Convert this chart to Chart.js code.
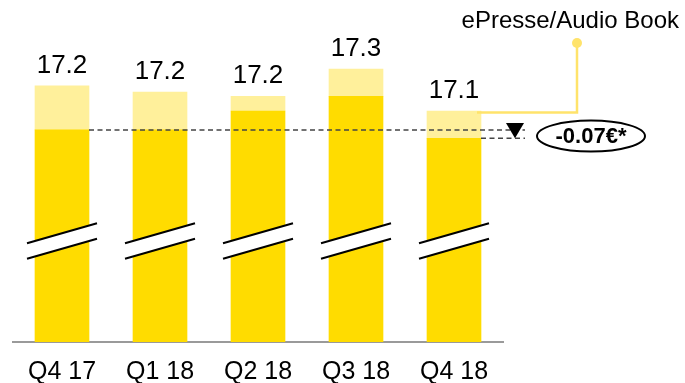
<!DOCTYPE html>
<html lang="fr">
<head>
<meta charset="utf-8">
<title>ARPU</title>
<style>
    html, body { margin: 0; padding: 0; background: #fff; }
    #wrap { width: 685px; height: 383px; }
</style>
</head>
<body>
<div id="wrap"><canvas id="myChart"></canvas></div>

<script src="https://cdn.jsdelivr.net/npm/chart.js"></script>
<script>
    const quarters = ["Q4 17", "Q1 18", "Q2 18", "Q3 18", "Q4 18"];
    // bar is split in print part + ePresse/Audio Book part, total is labelled on top
    const printValues = [17.01, 17.01, 17.10, 17.17, 16.97];
    const digitalValues = [0.21, 0.18, 0.07, 0.13, 0.13];
    const digitalLabel = "ePresse/Audio Book";
    const changeLabel = "-0.07€*";

    const FONT = '"Liberation Sans", Arial, Helvetica, sans-serif';
    const DARK = '#FFDC00';
    const LIGHT = '#FFF09B';
    const CALLOUT = '#FFE36B';
    const BREAK_AT = 16.48; // where the axis is cut

    function totalAt(i) {
        return printValues[i] + digitalValues[i];
    }

    var decorations = {
        id: 'decorations',
        afterDatasetsDraw: function (chart) {
            var ctx = chart.ctx;
            var y = chart.scales.y;
            var baseBars = chart.getDatasetMeta(0).data;
            var topBars = chart.getDatasetMeta(1).data;

            ctx.save();

            // axis break: white band with two slanted strokes
            var by = y.getPixelForValue(BREAK_AT);
            topBars.forEach(function (bar) {
                var cx = bar.x, dx = 35, rise = 10;
                var up = by - 8, lo = by + 7.5;
                ctx.fillStyle = '#fff';
                ctx.beginPath();
                ctx.moveTo(cx - dx, up + rise);
                ctx.lineTo(cx + dx, up - rise);
                ctx.lineTo(cx + dx, lo - rise);
                ctx.lineTo(cx - dx, lo + rise);
                ctx.closePath();
                ctx.fill();
                ctx.strokeStyle = '#000';
                ctx.lineWidth = 2;
                ctx.beginPath();
                ctx.moveTo(cx - dx, up + rise);
                ctx.lineTo(cx + dx, up - rise);
                ctx.moveTo(cx - dx, lo + rise);
                ctx.lineTo(cx + dx, lo - rise);
                ctx.stroke();
            });

            // totals above bars
            ctx.fillStyle = '#000';
            ctx.font = '26px ' + FONT;
            ctx.textAlign = 'center';
            ctx.textBaseline = 'alphabetic';
            topBars.forEach(function (bar, i) {
                ctx.fillText(totalAt(i).toFixed(1), bar.x, bar.y - 13);
            });

            // dashed reference lines: first and last print level
            var first = baseBars[0];
            var last = baseBars[baseBars.length - 1];
            var lastTop = topBars[topBars.length - 1];
            var endX = last.x + last.width / 2 + 44;
            ctx.strokeStyle = '#444';
            ctx.lineWidth = 1.5;
            ctx.setLineDash([5, 3.5]);
            ctx.beginPath();
            ctx.moveTo(first.x + first.width / 2, first.y);
            ctx.lineTo(endX, first.y);
            ctx.moveTo(last.x + last.width / 2, last.y);
            ctx.lineTo(endX, last.y);
            ctx.stroke();
            ctx.setLineDash([]);

            // down arrow
            var ax = endX - 10;
            ctx.fillStyle = '#000';
            ctx.beginPath();
            ctx.moveTo(ax - 9, first.y - 7);
            ctx.lineTo(ax + 9, first.y - 7);
            ctx.lineTo(ax, last.y);
            ctx.closePath();
            ctx.fill();

            // change bubble
            var ex = endX + 66, ey = (first.y + last.y) / 2 + 2;
            ctx.fillStyle = '#fff';
            ctx.strokeStyle = '#000';
            ctx.lineWidth = 2;
            ctx.beginPath();
            ctx.ellipse(ex, ey, 54, 15.5, 0, 0, Math.PI * 2);
            ctx.fill();
            ctx.stroke();
            ctx.fillStyle = '#000';
            ctx.font = 'bold 22px ' + FONT;
            ctx.textBaseline = 'middle';
            ctx.fillText(changeLabel, ex, ey + 1);

            // ePresse/Audio Book callout
            var lx = endX + 52, dotY = 43;
            ctx.strokeStyle = CALLOUT;
            ctx.lineWidth = 2.5;
            ctx.beginPath();
            ctx.moveTo(last.x + last.width / 2 - 4, lastTop.y + 1.5);
            ctx.lineTo(lx, lastTop.y + 1.5);
            ctx.lineTo(lx, dotY);
            ctx.stroke();
            ctx.fillStyle = CALLOUT;
            ctx.beginPath();
            ctx.arc(lx, dotY, 5, 0, Math.PI * 2);
            ctx.fill();
            ctx.fillStyle = '#000';
            ctx.font = '24px ' + FONT;
            ctx.textAlign = 'right';
            ctx.textBaseline = 'alphabetic';
            ctx.fillText(digitalLabel, 679, 28);

            ctx.restore();
        }
    };

    var data = {
        labels: quarters,
        datasets: [{
            label: 'Print',
            data: printValues,
            backgroundColor: DARK,
            barThickness: 54
        }, {
            label: digitalLabel,
            data: digitalValues,
            backgroundColor: LIGHT,
            barThickness: 54
        }]
    };

    var config = {
        type: 'bar',
        data: data,
        options: {
            responsive: true,
            maintainAspectRatio: false,
            animation: false,
            layout: {
                padding: { left: 13, right: 182, top: 27, bottom: 0 }
            },
            plugins: {
                legend: { display: false },
                tooltip: { enabled: false }
            },
            scales: {
                x: {
                    stacked: true,
                    grid: { display: false, drawTicks: false },
                    border: { display: true, color: '#9a9a9a', width: 2 },
                    ticks: {
                        color: '#000',
                        font: { family: FONT, size: 25 },
                        padding: 15
                    },
                    afterFit: function (scale) {
                        scale.height = 41;
                    }
                },
                y: {
                    stacked: true,
                    display: false,
                    min: 16,
                    max: 17.5
                }
            }
        },
        plugins: [decorations]
    };

    var myChart = new Chart(document.getElementById('myChart'), config);
</script>
</body>
</html>
